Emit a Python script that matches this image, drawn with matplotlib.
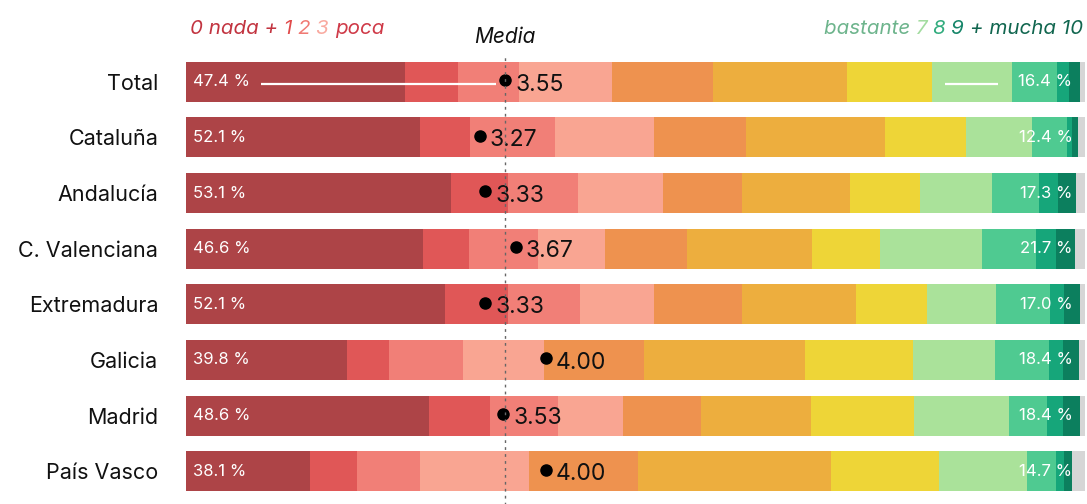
import numpy as np
import matplotlib
matplotlib.use("Agg")
import matplotlib.pyplot as plt

plt.rcParams['font.family'] = ['Inter', 'DejaVu Sans']

# rows, top to bottom
regions = ["Total", "Cataluña", "Andalucía", "C. Valenciana", "Extremadura",
           "Galicia", "Madrid", "País Vasco"]

# share (%) of answers for each score 0..10
score_0 = [24.4, 26.0, 29.5, 26.4, 28.8, 17.9, 27.0, 13.8]
score_1 = [5.9, 5.6, 6.3, 5.1, 7.0, 4.7, 6.8, 5.2]
score_2 = [6.7, 9.5, 7.8, 7.7, 8.0, 8.2, 7.6, 7.0]
score_3 = [10.4, 11.0, 9.5, 7.4, 8.3, 9.0, 7.2, 12.1]
score_4 = [11.2, 10.2, 8.7, 9.1, 9.7, 11.2, 8.7, 12.2]
score_5 = [14.9, 15.5, 12.1, 13.9, 12.7, 17.8, 12.2, 21.4]
score_6 = [9.5, 9.0, 7.8, 7.6, 7.9, 12.1, 11.5, 12.1]
score_7 = [8.9, 7.3, 8.0, 11.3, 7.7, 9.1, 10.5, 9.7]
score_8 = [5.0, 3.9, 5.2, 6.1, 6.0, 6.0, 4.3, 3.3]
score_9 = [1.3, 0.6, 2.1, 2.2, 1.6, 1.6, 1.8, 0.9]
score_10 = [1.2, 0.6, 2.0, 2.1, 1.7, 1.7, 1.8, 0.8]

means = [3.55, 3.27, 3.33, 3.67, 3.33, 4.00, 3.53, 4.00]
low_labels = ["47.4 %", "52.1 %", "53.1 %", "46.6 %", "52.1 %", "39.8 %", "48.6 %", "38.1 %"]
high_labels = ["16.4 %", "12.4 %", "17.3 %", "21.7 %", "17.0 %", "18.4 %", "18.4 %", "14.7 %"]

colors = ['#ad4447', '#e05757', '#f17f77', '#f9a592', '#ee924f', '#edae3e',
          '#eed537', '#aae29a', '#4fca91', '#16a67a', '#0c7f5e']
nsnc_color = '#d6d6d6'

scores = np.array([score_0, score_1, score_2, score_3, score_4, score_5,
                   score_6, score_7, score_8, score_9, score_10])
nsnc = 100 - scores.sum(axis=0)

fig = plt.figure(figsize=(10.87, 5.04), dpi=100)
ax = fig.add_axes([186 / 1087, 5 / 504, 899 / 1087, 445 / 504])

y = np.arange(len(regions))
bar_h = 0.72
left = np.zeros(len(regions))
for k in range(scores.shape[0]):
    ax.barh(y, scores[k], left=left, height=bar_h, color=colors[k], linewidth=0)
    left += scores[k]
ax.barh(y, nsnc, left=left, height=bar_h, color=nsnc_color, linewidth=0)

ax.set_xlim(0, 100)
ax.set_ylim(len(regions) - 0.5, -0.5)
for s in ax.spines.values():
    s.set_visible(False)
ax.set_xticks([])
ax.set_yticks(y)
ax.set_yticklabels(regions, fontsize=15.5, color='#111111')
ax.tick_params(axis='y', length=0, pad=20)

# low / high percentage labels
for i in range(len(regions)):
    ax.text(0.8, i, low_labels[i], color='white', fontsize=12, va='center', ha='left')
    ax.text(98.6, i, high_labels[i], color='white', fontsize=12, va='center', ha='right')

# leader lines on the Total row
ax.plot([8.3, means[0] * 10 - 1.0], [0.04, 0.04], color='white', lw=1.6, solid_capstyle='butt')
top6 = scores[:7, 0].sum()
ax.plot([top6 + 1.4, 90.3], [0.04, 0.04], color='white', lw=1.6, solid_capstyle='butt')

# mean markers
for i, m in enumerate(means):
    ax.plot(m * 10, i - 0.03, 'o', color='black', ms=8, zorder=5)
    ax.text(m * 10 + 1.1, i + 0.05, f"{m:.2f}", fontsize=16.5, va='center', ha='left',
            color='#111111', zorder=5)

# dashed reference at the overall mean
ax.axvline(means[0] * 10, ymin=-0.02, ymax=1.0, color='#666666', lw=1,
           linestyle=(0, (2, 3)), clip_on=False, zorder=6)
ax.text(means[0] * 10, -0.62, "Media", fontsize=15, style='italic',
        ha='center', va='bottom', color='#111111')


def chain(pieces, x, yy, side='left', size=14):
    """draw coloured text pieces one after another in figure coords"""
    if side == 'left':
        prev = fig.text(x, yy, pieces[0][0], color=pieces[0][1], fontsize=size,
                        style='italic', ha='left', va='baseline')
        for txt, col in pieces[1:]:
            prev = ax.annotate(txt, xy=(1, 0), xycoords=prev, ha='left', va='bottom',
                               color=col, fontsize=size, style='italic',
                               annotation_clip=False)
    else:
        prev = fig.text(x, yy, pieces[-1][0], color=pieces[-1][1], fontsize=size,
                        style='italic', ha='right', va='baseline')
        for txt, col in reversed(pieces[:-1]):
            prev = ax.annotate(txt, xy=(0, 0), xycoords=prev, ha='right', va='bottom',
                               color=col, fontsize=size, style='italic',
                               annotation_clip=False)


chain([("0 nada + ", '#c23440'), ("1 ", '#e04a4a'), ("2 ", '#f07a74'),
       ("3 ", '#f9aaa0'), ("poca", '#cf3a48')], 190 / 1087, 1 - 34 / 504, 'left', 14.8)
chain([("bastante ", '#6db48c'), ("7 ", '#a3dca0'), ("8 ", '#32ac7e'),
       ("9 ", '#17866a'), ("+ mucha 10", '#11664f')], 1083 / 1087, 1 - 34 / 504, 'right', 14.8)

fig.savefig("out.png", dpi=100)
